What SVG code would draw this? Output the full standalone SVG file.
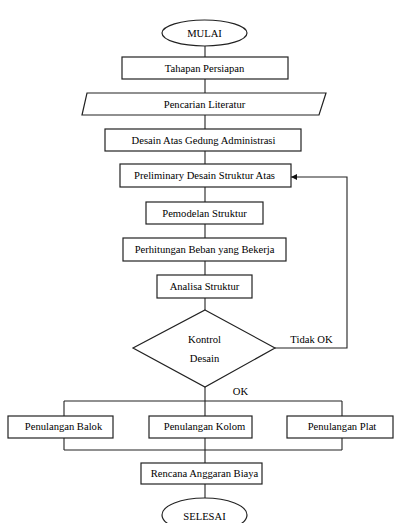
<svg xmlns="http://www.w3.org/2000/svg" width="394" height="523" viewBox="0 0 394 523">
<style>
.n{fill:#fff;stroke:#222;stroke-width:1.2}
.c{fill:none;stroke:#222;stroke-width:1.1}
.t{font-family:'Liberation Serif','DejaVu Serif',serif;font-size:10.6px;fill:#000;text-anchor:middle}
</style>
<defs>
<marker id="ah" viewBox="0 0 10 10" refX="10" refY="5" markerWidth="6" markerHeight="6" orient="auto" markerUnits="userSpaceOnUse">
<path d="M0,0 L10,5 L0,10 z" fill="#111"/>
</marker>
</defs>
<rect width="394" height="523" fill="#fff"/>
<g id="connectors">
<line class="c" x1="205" y1="46" x2="205" y2="57"/>
<line class="c" x1="205" y1="79" x2="205" y2="93"/>
<line class="c" x1="205" y1="115" x2="205" y2="129"/>
<line class="c" x1="205" y1="151" x2="205" y2="164"/>
<line class="c" x1="205" y1="187" x2="205" y2="202"/>
<line class="c" x1="205" y1="224" x2="205" y2="238"/>
<line class="c" x1="205" y1="261" x2="205" y2="275"/>
<line class="c" x1="205" y1="298" x2="205" y2="310"/>
<polyline class="c" points="275,348 347,348 347,177 291,177" marker-end="url(#ah)"/>
<line class="c" x1="205" y1="387" x2="205" y2="401"/>
<line class="c" x1="64" y1="401" x2="342" y2="401"/>
<line class="c" x1="64" y1="401" x2="64" y2="416"/>
<line class="c" x1="205" y1="401" x2="205" y2="416"/>
<line class="c" x1="342" y1="401" x2="342" y2="416"/>
<line class="c" x1="64" y1="438" x2="64" y2="450"/>
<line class="c" x1="342" y1="438" x2="342" y2="450"/>
<line class="c" x1="64" y1="450" x2="342" y2="450"/>
<line class="c" x1="205" y1="438" x2="205" y2="463"/>
<line class="c" x1="205" y1="484" x2="205" y2="498"/>
<text class="t" x="311.5" y="343" font-size="11.5">Tidak OK</text>
<text class="t" x="240.5" y="395" font-size="11.5">OK</text>
</g>
<g id="mulai"><ellipse class="n" cx="204.5" cy="33" rx="42.5" ry="13"/><text class="t" x="204.5" y="37">MULAI</text></g>
<g id="tahapan"><rect class="n" x="122" y="57" width="166" height="22"/><text class="t" x="204.5" y="72">Tahapan Persiapan</text></g>
<g id="pencarian"><polygon class="n" points="87,93 326,93 319,115 82,115"/><text class="t" x="204.5" y="108">Pencarian Literatur</text></g>
<g id="desain"><rect class="n" x="105" y="129" width="196" height="22"/><text class="t" x="203.5" y="144">Desain Atas Gedung Administrasi</text></g>
<g id="preliminary"><rect class="n" x="120" y="164" width="171" height="23"/><text class="t" x="204.5" y="179">Preliminary Desain Struktur Atas</text></g>
<g id="pemodelan"><rect class="n" x="146" y="202" width="117" height="22"/><text class="t" x="204.5" y="217">Pemodelan Struktur</text></g>
<g id="perhitungan"><rect class="n" x="123" y="238" width="163" height="23"/><text class="t" x="204.5" y="253">Perhitungan Beban yang Bekerja</text></g>
<g id="analisa"><rect class="n" x="157" y="275" width="95" height="23"/><text class="t" x="204.5" y="290">Analisa Struktur</text></g>
<g id="kontrol"><polygon class="n" points="205,310 275,348 205,387 133,348"/><text class="t" x="204.5" y="343">Kontrol</text><text class="t" x="204.5" y="362">Desain</text></g>
<g id="balok"><rect class="n" x="8" y="416" width="105" height="22"/><text class="t" x="63.5" y="430">Penulangan Balok</text></g>
<g id="kolom"><rect class="n" x="149" y="416" width="103" height="22"/><text class="t" x="204.5" y="430">Penulangan Kolom</text></g>
<g id="plat"><rect class="n" x="287" y="416" width="106" height="22"/><text class="t" x="342" y="430">Penulangan Plat</text></g>
<g id="rencana"><rect class="n" x="141" y="463" width="121" height="21"/><text class="t" x="204.5" y="477">Rencana Anggaran Biaya</text></g>
<g id="selesai"><ellipse class="n" cx="204.5" cy="515" rx="42.5" ry="17"/><text class="t" x="204.5" y="520">SELESAI</text></g>
</svg>
